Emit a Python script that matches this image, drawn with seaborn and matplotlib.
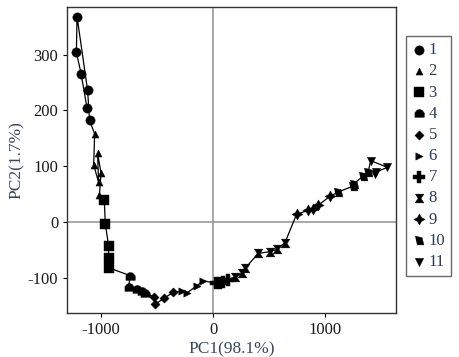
import numpy as np
import pandas as pd
import matplotlib.pyplot as plt
import seaborn as sns

# PCA scores per group, in the order they are joined by the trajectory line
g1_x = [-1123, -1176, -1218, -1212, -1118, -1100]
g1_y = [204, 266, 304, 368, 236, 182]
g2_x = [-1055, -1064, -1020, -1029, -998, -1013]
g2_y = [158, 103, 71, 123, 88, 48]
g3_x = [-969, -960, -931, -931, -927]
g3_y = [39, -4, -42, -65, -82]
g4_x = [-738, -753, -678, -634, -611]
g4_y = [-96, -116, -120, -124, -127]
g5_x = [-522, -516, -433, -358]
g5_y = [-134, -147, -136, -126]
g6_x = [-278, -234, -145, -86]
g6_y = [-124, -127, -114, -105]
g7_x = [30, 60, 90, 136]
g7_y = [-110, -110, -108, -103]
g8_x = [196, 255, 284, 403, 507, 566, 640]
g8_y = [-98, -92, -83, -56, -53, -49, -37]
g9_x = [744, 847, 892, 936, 1040]
g9_y = [14, 21, 24, 30, 46]
g10_x = [1114, 1242, 1254, 1336, 1381]
g10_y = [54, 64, 69, 82, 90]
g11_x = [1405, 1553, 1455, 1440]
g11_y = [110, 98, 90, 87]

groups = ["1", "2", "3", "4", "5", "6", "7", "8", "9", "10", "11"]
xs = [g1_x, g2_x, g3_x, g4_x, g5_x, g6_x, g7_x, g8_x, g9_x, g10_x, g11_x]
ys = [g1_y, g2_y, g3_y, g4_y, g5_y, g6_y, g7_y, g8_y, g9_y, g10_y, g11_y]

df = pd.DataFrame({
    "PC1": np.concatenate(xs),
    "PC2": np.concatenate(ys),
    "group": np.concatenate([[g] * len(x) for g, x in zip(groups, xs)]),
})

house = [(-1, -0.8), (1, -0.8), (1, 0.1), (0.5, 0.7), (0, 0.85), (-0.5, 0.7), (-1, 0.1)]
hourglass = [(-1, 1), (1, 1), (0.35, 0), (1, -1), (-1, -1), (-0.35, 0)]
quad = [(-1, 1), (0.6, 0.65), (1, -1), (-0.55, -1)]
markers = {"1": "o", "2": "^", "3": "s", "4": house, "5": "D", "6": ">",
           "7": "P", "8": hourglass, "9": (4, 1, 0), "10": quad, "11": "v"}
sizes = {"1": 45, "2": 26, "3": 50, "4": 48, "5": 22, "6": 28,
         "7": 65, "8": 40, "9": 65, "10": 40, "11": 36}

sns.set_style("ticks")
plt.rcParams["font.family"] = ["Liberation Serif", "DejaVu Serif"]
plt.rcParams["axes.unicode_minus"] = False

fig = plt.figure(figsize=(4.6, 3.57), dpi=100)
ax = fig.add_axes([0.146, 0.123, 0.715, 0.857])

ax.axvline(0, color="#9a9a9a", lw=1.2, zorder=0)
ax.axhline(0, color="#9a9a9a", lw=1.2, zorder=0)
ax.plot(df["PC1"], df["PC2"], color="black", lw=0.9, zorder=1)

for g in groups:
    sub = df[df["group"] == g]
    ax.scatter(sub["PC1"], sub["PC2"], marker=markers[g], s=sizes[g],
               color="black", edgecolor="black", linewidth=0.3, zorder=2, label=g)

ax.set_xlim(-1300, 1630)
ax.set_ylim(-163, 385)
ax.set_xticks([-1000, 0, 1000])
ax.set_yticks([-100, 0, 100, 200, 300])
ax.tick_params(labelsize=12, length=3, width=0.8, colors="black", labelcolor="#1a1a1a")
for s in ax.spines.values():
    s.set_color("#333333")
    s.set_linewidth(1.0)

ax.set_xlabel("PC1(98.1%)", fontsize=12.5, color="#3b4658", labelpad=2)
ax.set_ylabel("PC2(1.7%)", fontsize=12.5, color="#3b4658", labelpad=2)

leg = fig.legend(loc="upper left", bbox_to_anchor=(0.883, 0.898), borderaxespad=0,
                 frameon=True, fancybox=False, fontsize=12, labelspacing=0.31,
                 handletextpad=0.15, handlelength=0.85, borderpad=0.35, markerscale=1.0)
leg.get_frame().set_edgecolor("#444444")
leg.get_frame().set_linewidth(1.0)
for t in leg.get_texts():
    t.set_color("#2d3a55")

fig.savefig("out.png", dpi=100)
